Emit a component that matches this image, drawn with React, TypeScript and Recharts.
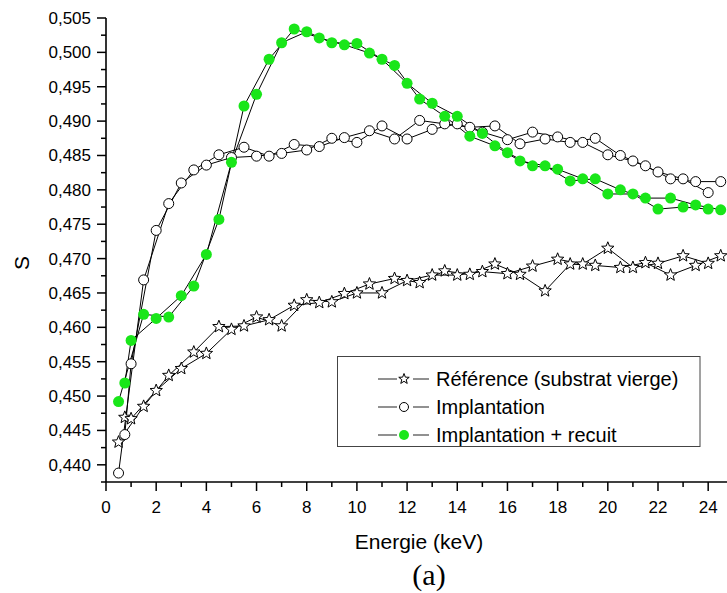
import { LineChart, Line, XAxis, YAxis } from "recharts";

// energies: two interleaved runs (half-keV and integer keV)
const energyHalf = [
  0.5, 1.5, 2.5, 3.5, 4.5, 5.5, 6.5, 7.5, 8.5, 9.5, 10.5, 11.5, 12.5, 13.5,
  14.5, 15.5, 16.5, 17.5, 18.5, 19.5, 20.5, 21.5, 22.5, 23.5, 24.5,
];
const energyInt = [
  0.75, 1, 2, 3, 4, 5, 6, 7, 8, 9, 10, 11, 12, 13, 14, 15, 16, 17, 18, 19, 20,
  21, 22, 23, 24,
];

const refHalf = [
  0.4433, 0.4485, 0.453, 0.4564, 0.4601, 0.4602, 0.4611, 0.4632, 0.4636,
  0.4649, 0.4663, 0.4671, 0.4665, 0.4682, 0.4677, 0.4692, 0.4677, 0.4653,
  0.4692, 0.469, 0.4687, 0.4694, 0.4676, 0.469, 0.4704,
];
const refInt = [
  0.4469, 0.4467, 0.4508, 0.454, 0.4562, 0.4597, 0.4615, 0.4602, 0.464,
  0.4637, 0.465, 0.465, 0.4668, 0.4676, 0.4676, 0.4681, 0.4678, 0.4689,
  0.4699, 0.4692, 0.4715, 0.4687, 0.4693, 0.4704, 0.4693,
];

const implHalf = [
  0.4388, 0.4669, 0.478, 0.4829, 0.4851, 0.4862, 0.4849, 0.4866, 0.4863,
  0.4876, 0.4886, 0.4874, 0.4901, 0.4896, 0.4891, 0.4893, 0.4867, 0.4874,
  0.4869, 0.4875, 0.485, 0.4835, 0.4816, 0.4812, 0.4812,
];
const implInt = [
  0.4444, 0.4547, 0.4741, 0.481, 0.4836, 0.4847, 0.4849, 0.4853, 0.4858,
  0.4875, 0.4869, 0.4893, 0.4874, 0.4888, 0.4896, 0.4884, 0.4873, 0.4884,
  0.4877, 0.4869, 0.4851, 0.4842, 0.4826, 0.4816, 0.4796,
];

const recuitHalf = [
  0.4492, 0.4619, 0.4615, 0.466, 0.4757, 0.4922, 0.499, 0.5034, 0.5021,
  0.5011, 0.4999, 0.4981, 0.4932, 0.4907, 0.4878, 0.4864, 0.4842, 0.4835,
  0.4813, 0.4816, 0.48, 0.4788, 0.4788, 0.4778, 0.4771,
];
const recuitInt = [
  0.4519, 0.4581, 0.4613, 0.4646, 0.4706, 0.484, 0.4939, 0.5014, 0.503,
  0.5014, 0.5013, 0.499, 0.4955, 0.4926, 0.4907, 0.4882, 0.4854, 0.4835,
  0.483, 0.4816, 0.4794, 0.4794, 0.4772, 0.4775, 0.4772,
];

const xTicks = [
  0, 1, 2, 3, 4, 5, 6, 7, 8, 9, 10, 11, 12, 13, 14, 15, 16, 17, 18, 19, 20,
  21, 22, 23, 24,
];
const yTicks = [
  0.4375, 0.44, 0.4425, 0.445, 0.4475, 0.45, 0.4525, 0.455, 0.4575, 0.46,
  0.4625, 0.465, 0.4675, 0.47, 0.4725, 0.475, 0.4775, 0.48, 0.4825, 0.485,
  0.4875, 0.49, 0.4925, 0.495, 0.4975, 0.5, 0.5025, 0.505,
];

const GREEN = "#19e619";
const FONT = "'Liberation Sans', Arial, sans-serif";

const rows = [
  ...energyHalf.map((e, i) => ({
    e,
    refA: refHalf[i],
    implA: implHalf[i],
    recA: recuitHalf[i],
  })),
  ...energyInt.map((e, i) => ({
    e,
    refB: refInt[i],
    implB: implInt[i],
    recB: recuitInt[i],
  })),
].sort((a, b) => a.e - b.e);

const starPath = (cx: number, cy: number, ro: number, ri: number) => {
  let d = "";
  for (let k = 0; k < 10; k++) {
    const r = k % 2 === 0 ? ro : ri;
    const a = -Math.PI / 2 + (k * Math.PI) / 5;
    d += (k === 0 ? "M" : "L") + (cx + r * Math.cos(a)).toFixed(2) + "," + (cy + r * Math.sin(a)).toFixed(2);
  }
  return d + "Z";
};

const StarDot = (props: any) => {
  const { cx, cy } = props;
  if (cx == null || cy == null) return <g />;
  return <path d={starPath(cx, cy, 6.5, 2.8)} fill="#fff" stroke="#000" strokeWidth={1} />;
};

const CircleDot = (props: any) => {
  const { cx, cy } = props;
  if (cx == null || cy == null) return <g />;
  return <circle cx={cx} cy={cy} r={5} fill="#fff" stroke="#000" strokeWidth={1} />;
};

const GreenDot = (props: any) => {
  const { cx, cy } = props;
  if (cx == null || cy == null) return <g />;
  return <circle cx={cx} cy={cy} r={5.5} fill={GREEN} stroke="none" />;
};

const XTick = (props: any) => {
  const { x, y, payload } = props;
  const major = payload.value % 2 === 0;
  return (
    <g>
      <line x1={x} x2={x} y1={y} y2={y + (major ? 9 : 5)} stroke="#000" strokeWidth={1.5} />
      {major && (
        <text x={x} y={y + 31} textAnchor="middle" fontSize={17} fontFamily={FONT} fill="#000">
          {payload.value}
        </text>
      )}
    </g>
  );
};

const YTick = (props: any) => {
  const { x, y, payload } = props;
  const v = payload.value;
  const major = Math.abs(v * 200 - Math.round(v * 200)) < 1e-6;
  return (
    <g>
      <line x1={x - (major ? 9 : 5)} x2={x} y1={y} y2={y} stroke="#000" strokeWidth={1.5} />
      {major && (
        <text x={x - 15} y={y + 6} textAnchor="end" fontSize={17} fontFamily={FONT} fill="#000">
          {v.toFixed(3).replace(".", ",")}
        </text>
      )}
    </g>
  );
};

const legendItems = [
  { label: "Référence (substrat vierge)", kind: "star" },
  { label: "Implantation", kind: "circle" },
  { label: "Implantation + recuit", kind: "green" },
];

const App = () => {
  return (
    <div style={{ position: "absolute", left: 0, top: 0, width: 727, height: 593, background: "#fff" }}>
      <LineChart width={727} height={593} data={rows} margin={{ top: 18, right: 0, bottom: 0, left: 0 }}>
        <XAxis
          dataKey="e"
          type="number"
          domain={[0, 24.75]}
          allowDataOverflow
          ticks={xTicks}
          interval={0}
          tick={<XTick />}
          tickLine={false}
          tickSize={0}
          tickMargin={0}
          axisLine={{ stroke: "#000", strokeWidth: 1.6 }}
          height={111}
        />
        <YAxis
          type="number"
          domain={[0.4375, 0.505]}
          allowDataOverflow
          ticks={yTicks}
          interval={0}
          tick={<YTick />}
          tickLine={false}
          tickSize={0}
          tickMargin={0}
          axisLine={{ stroke: "#000", strokeWidth: 1.6 }}
          width={106}
        />
        <Line dataKey="refA" stroke="#000" strokeWidth={1} connectNulls dot={StarDot} activeDot={false} isAnimationActive={false} />
        <Line dataKey="refB" stroke="#000" strokeWidth={1} connectNulls dot={StarDot} activeDot={false} isAnimationActive={false} />
        <Line dataKey="implA" stroke="#000" strokeWidth={1} connectNulls dot={CircleDot} activeDot={false} isAnimationActive={false} />
        <Line dataKey="implB" stroke="#000" strokeWidth={1} connectNulls dot={CircleDot} activeDot={false} isAnimationActive={false} />
        <Line dataKey="recA" stroke="#000" strokeWidth={1} connectNulls dot={GreenDot} activeDot={false} isAnimationActive={false} />
        <Line dataKey="recB" stroke="#000" strokeWidth={1} connectNulls dot={GreenDot} activeDot={false} isAnimationActive={false} />
      </LineChart>
      <svg width={727} height={593} style={{ position: "absolute", left: 0, top: 0, pointerEvents: "none" }}>
        <text x={29} y={263} transform="rotate(-90 29 263)" textAnchor="middle" fontSize={21} fontFamily={FONT}>
          S
        </text>
        <text x={419} y={549} textAnchor="middle" fontSize={21} fontFamily={FONT}>
          Energie (keV)
        </text>
        <text x={429} y={585} textAnchor="middle" fontSize={30} fontFamily="'Liberation Serif', 'Times New Roman', serif">
          (a)
        </text>
        <rect x={337.5} y={356.5} width={362.5} height={90} fill="#fff" stroke="#444" strokeWidth={1} />
        {legendItems.map((it, i) => {
          const cy = 379 + i * 28;
          return (
            <g key={it.label}>
              <line x1={378} x2={397} y1={cy} y2={cy} stroke="#555" strokeWidth={1.3} />
              <line x1={413} x2={429} y1={cy} y2={cy} stroke="#555" strokeWidth={1.3} />
              {it.kind === "star" && <path d={starPath(404, cy, 5.5, 2.3)} fill="#fff" stroke="#000" strokeWidth={1} />}
              {it.kind === "circle" && <circle cx={404} cy={cy} r={4.5} fill="#fff" stroke="#000" strokeWidth={1} />}
              {it.kind === "green" && <circle cx={404} cy={cy} r={5} fill={GREEN} />}
              <text x={436} y={cy + 7} fontSize={20} fontFamily={FONT} fill="#000">
                {it.label}
              </text>
            </g>
          );
        })}
      </svg>
    </div>
  );
};

export default App;
